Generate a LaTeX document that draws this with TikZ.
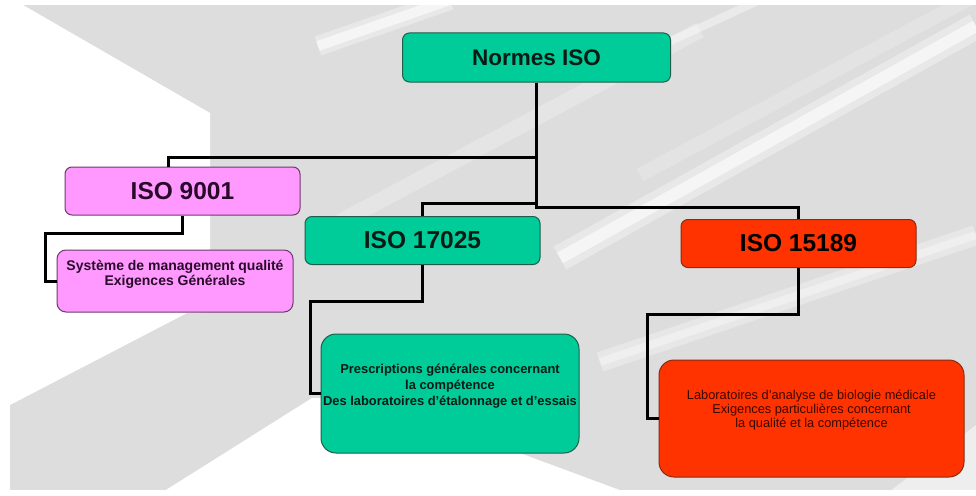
\documentclass[tikz,border=0pt]{standalone}
\usepackage{fontspec}
\setmainfont{Liberation Sans}
\definecolor{bggray}{HTML}{DDDDDD}
\definecolor{isogreen}{HTML}{00CC99}
\definecolor{isopink}{HTML}{FF99FF}
\definecolor{isored}{HTML}{FF3300}
\definecolor{greenedge}{HTML}{1E5E4A}
\definecolor{pinkedge}{HTML}{6E3A6E}
\definecolor{rededge}{HTML}{8A2A10}
\definecolor{inkgreen}{HTML}{0A1A14}
\definecolor{inkpink}{HTML}{2A0A2A}
\definecolor{inkred}{HTML}{3A0800}
\newcommand{\liftup}[2]{\raisebox{#1}[\height][\depth]{#2}}
\begin{document}
\begin{tikzpicture}[x=1pt,y=-1pt,
  box/.style={draw, line width=1pt, inner sep=0pt, align=center},
  titlebox/.style={box, rounded corners=7pt, minimum width=235pt, minimum height=48pt,
    font=\fontsize{24.5}{28}\selectfont\bfseries},
  conn/.style={line width=3pt, draw=black},
  stripe/.style={line width=#1, white, line cap=butt}
]
% background
\useasboundingbox (0,0) rectangle (976,495);
\fill[white] (0,0) rectangle (976,495);
\fill[bggray] (10,5) rectangle (976,490);
\fill[white] (10,5) -- (23,5) -- (210,113) -- (210,312) -- (187,313) -- (10,405) -- cycle;
\fill[white] (158,495) -- (312,398) -- (500,398) -- (500,450) -- (517,452) -- (633,495) -- cycle;
\fill[white, opacity=0.5] (885,495) -- (976,425) -- (976,495) -- cycle;
% soft stripes (wide faint + narrow brighter)
\draw[stripe=20pt, opacity=0.35] (318,46) -- (450,0);
\draw[stripe=10pt, opacity=0.6] (318,46) -- (450,0);
\draw[stripe=16pt, opacity=0.25] (340,222) -- (700,30);
\draw[stripe=26pt, opacity=0.35] (560,258) -- (976,26);
\draw[stripe=12pt, opacity=0.6] (560,258) -- (976,26);
\draw[stripe=14pt, opacity=0.2] (640,175) -- (976,-5);
\draw[stripe=8pt, opacity=0.4] (660,46) -- (760,0);
\draw[stripe=20pt, opacity=0.3] (600,362) -- (976,235);
\draw[stripe=8pt, opacity=0.35] (600,362) -- (976,235);

% nodes
\node[titlebox, fill=isogreen, draw=greenedge, minimum width=268pt, minimum height=49pt,
  font=\fontsize{22.5}{26}\selectfont\bfseries, text=inkgreen] (norm) at (536.5,57.5) {Normes ISO};
\node[titlebox, fill=isopink, draw=pinkedge, text=inkpink] (i9001) at (182.5,191) {ISO 9001};
\node[titlebox, fill=isogreen, draw=greenedge, text=inkgreen] (i17025) at (422.5,240.5) {ISO 17025};
\node[titlebox, fill=isored, draw=rededge, text=black] (i15189) at (798.5,243.5) {ISO 15189};

\node[box, rounded corners=9pt, fill=isopink, draw=pinkedge, text=inkpink,
  minimum width=236pt, minimum height=62pt,
  font=\fontsize{14}{15.5}\selectfont\bfseries] (sys) at (175,281)
  {\liftup{6pt}{\begin{tabular}{@{}c@{}}Système de management qualité\\Exigences Générales\end{tabular}}};
\node[box, rounded corners=15pt, fill=isogreen, draw=greenedge, text=inkgreen,
  minimum width=258pt, minimum height=119pt,
  font=\fontsize{12.9}{16}\selectfont\bfseries] (presc) at (450,393.5)
  {\liftup{7pt}{\begin{tabular}{@{}c@{}}Prescriptions générales concernant\\la compétence\\Des laboratoires d’étalonnage et d’essais\end{tabular}}};
\node[box, rounded corners=15pt, fill=isored, draw=rededge, text=inkred,
  minimum width=305pt, minimum height=117pt,
  font=\fontsize{12.8}{13.8}\selectfont] (labo) at (811.5,418.5)
  {\liftup{8pt}{\begin{tabular}{@{}c@{}}Laboratoires d’analyse de biologie médicale\\Exigences particulières concernant\\la qualité et la compétence\end{tabular}}};

% connectors
\coordinate (trunkend) at (536.5,209);
\coordinate (b9001) at (168,157);
\coordinate (e1) at (45,233);
\coordinate (e2) at (310,301);
\coordinate (e3) at (647,314);
\draw[conn] (norm.south) -- (trunkend);
\draw[conn] (norm.south |- b9001) -| ([xshift=-14.5pt]i9001.north);
\draw[conn] (norm.south |- 0,203) -| (i17025.north);
\draw[conn] (norm.south |- 0,207.5) -| (i15189.north);
\draw[conn] (i9001.south) |- (e1) |- (sys.west);
\draw[conn] (i17025.south) |- (e2) |- (presc.west);
\draw[conn] (i15189.south) |- (e3) |- (labo.west);
\end{tikzpicture}
\end{document}
